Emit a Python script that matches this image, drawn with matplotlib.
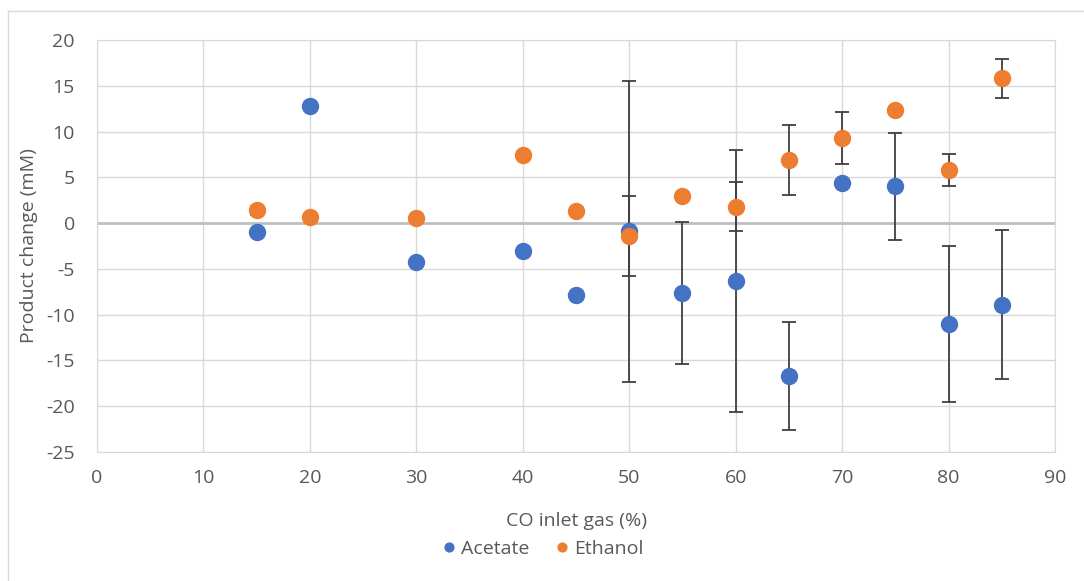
import matplotlib

matplotlib.use("Agg")
import matplotlib.pyplot as plt
from matplotlib.lines import Line2D

# CO inlet gas (%) and product change (mM)
co_pct = [15, 20, 30, 40, 45, 50, 55, 60, 65, 70, 75, 80, 85]
acetate = [-1.0, 12.8, -4.2, -3.1, -7.8, -0.9, -7.6, -6.3, -16.7, 4.35, 4.0, -11.0, -8.9]
acetate_err = [0, 0, 0, 0, 0, 16.4, 7.75, 14.3, 5.85, 0, 5.85, 8.55, 8.15]
ethanol = [1.4, 0.7, 0.6, 7.4, 1.3, -1.4, 3.0, 1.8, 6.9, 9.3, 12.3, 5.8, 15.8]
ethanol_err = [0.5, 0, 0, 0, 0, 4.35, 0, 2.7, 3.85, 2.8, 0, 1.75, 2.1]

BLUE = "#4472C4"
ORANGE = "#ED7D31"
TEXT = "#595959"
GRID = "#D9D9D9"
W, H = 1084, 581

plt.rcParams["font.family"] = ["Open Sans", "DejaVu Sans"]
plt.rcParams["axes.unicode_minus"] = False

fig = plt.figure(figsize=(W / 100, H / 100), dpi=100)
ax = fig.add_axes([97 / W, 1 - 452 / H, (1055 - 97) / W, (452 - 40) / H])

err_kw = dict(fmt="none", ecolor="#404040", elinewidth=1.3, capsize=5, capthick=1.3, zorder=2)
ax.errorbar(co_pct, acetate, yerr=acetate_err, **err_kw)
ax.errorbar(co_pct, ethanol, yerr=ethanol_err, **err_kw)
ax.plot(co_pct, acetate, "o", color=BLUE, markersize=11.5, label="Acetate", zorder=3)
ax.plot(co_pct, ethanol, "o", color=ORANGE, markersize=11.5, label="Ethanol", zorder=3)

ax.set_xlim(0, 90)
ax.set_ylim(-25, 20)
ax.set_xticks(range(0, 91, 10))
ax.set_yticks(range(-25, 21, 5))
ax.grid(True, color=GRID, linewidth=1)
ax.axhline(0, color="#BFBFBF", linewidth=2, zorder=1)
ax.set_axisbelow(True)
for side in ax.spines.values():
    side.set_color(GRID)
ax.tick_params(length=0, colors=TEXT, labelsize=14)
ax.tick_params(axis="x", pad=12)
ax.tick_params(axis="y", pad=16)

ax.set_xlabel("CO inlet gas (%)", color=TEXT, fontsize=14, labelpad=18)
ax.set_ylabel("Product change (mM)", color=TEXT, fontsize=14, labelpad=6)

fig.legend(
    loc="center",
    bbox_to_anchor=(0.5, 1 - 549 / H),
    ncol=2,
    frameon=False,
    fontsize=14,
    labelcolor=TEXT,
    handlelength=0.9,
    handletextpad=0.2,
    columnspacing=1.2,
    markerscale=0.55,
)

# outer chart border (top and left edges only are inside the picture)
fig.add_artist(Line2D([8 / W, 8 / W], [0, 1 - 11 / H], transform=fig.transFigure,
                      color=GRID, linewidth=1))
fig.add_artist(Line2D([8 / W, 1], [1 - 11 / H, 1 - 11 / H], transform=fig.transFigure,
                      color=GRID, linewidth=1))

fig.savefig("out.png", dpi=100)
